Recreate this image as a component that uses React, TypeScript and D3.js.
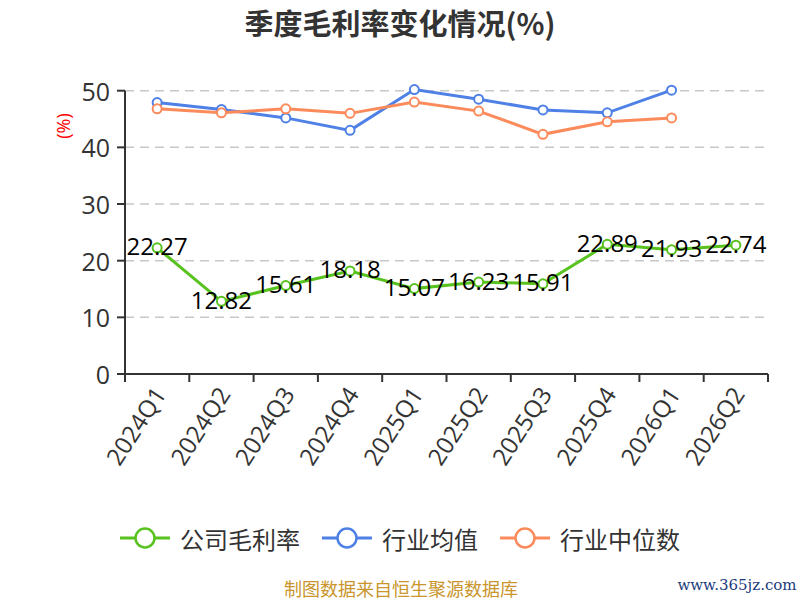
import React from 'react'
import * as d3 from 'd3'

const quarters = ['2024Q1', '2024Q2', '2024Q3', '2024Q4', '2025Q1', '2025Q2', '2025Q3', '2025Q4', '2026Q1', '2026Q2']
const companyMargin = [22.27, 12.82, 15.61, 18.18, 15.07, 16.23, 15.91, 22.89, 21.93, 22.74]
const industryMean: (number | null)[] = [47.9, 46.7, 45.2, 43.0, 50.2, 48.5, 46.6, 46.1, 50.1, null]
const industryMedian: (number | null)[] = [46.8, 46.1, 46.8, 46.0, 48.0, 46.4, 42.3, 44.5, 45.2, null]
const yTicks = [0, 10, 20, 30, 40, 50]

const seriesNames = ['公司毛利率', '行业均值', '行业中位数']
const seriesColors = ['#58c21e', '#4e80e6', '#fc8b5c']

const width = 800
const height = 600
const margin = { top: 90.7, right: 32, bottom: 226, left: 125 }
const font = '"Open Sans", "Noto Sans CJK SC", sans-serif'
const cjkFont = '"Noto Sans CJK SC", sans-serif'

export default function App() {
    const x = d3.scaleBand<string>().domain(quarters).range([margin.left, width - margin.right])
    const y = d3.scaleLinear().domain([0, 50]).range([height - margin.bottom, margin.top])
    const cx = (q: string) => x(q)! + x.bandwidth() / 2

    const line = d3
        .line<number | null>()
        .defined((d) => d != null)
        .x((_, i) => cx(quarters[i]))
        .y((d) => y(d as number))

    const allSeries = [companyMargin, industryMean, industryMedian]
    const x0 = margin.left
    const x1 = width - margin.right
    const yBase = y(0)

    // legend: icon 50 wide, 10 gap, text 24px per char, 22 between items
    const itemW = seriesNames.map((n) => 60 + n.length * 24)
    const legendTotal = d3.sum(itemW) + 22 * (itemW.length - 1)
    let lx = width / 2 - legendTotal / 2
    const legendX = itemW.map((w) => {
        const p = lx
        lx += w + 22
        return p
    })

    return (
        <svg
            width={width}
            height={height}
            style={{ position: 'absolute', left: 0, top: 0, background: '#fff' }}
            fontFamily={font}
        >
            <text x={400} y={22} textAnchor="middle" dominantBaseline="central" fontSize={29} fontWeight="bold" fill="#333" fontFamily={cjkFont}>
                季度毛利率变化情况(%)
            </text>

            {/* grid */}
            {yTicks.filter((t) => t > 0).map((t) => (
                <line key={t} x1={x0} x2={x1} y1={y(t)} y2={y(t)} stroke="#c8c8c8" strokeWidth={1.5} strokeDasharray="9,6" />
            ))}

            {/* y axis */}
            <line x1={x0} x2={x0} y1={y(50)} y2={yBase} stroke="#333" strokeWidth={2} />
            {yTicks.map((t) => (
                <g key={t}>
                    <line x1={x0 - 8} x2={x0} y1={y(t)} y2={y(t)} stroke="#333" strokeWidth={2} />
                    <text x={x0 - 15} y={y(t)} textAnchor="end" dominantBaseline="central" fontSize={25} fill="#333">
                        {t}
                    </text>
                </g>
            ))}
            <text
                transform={`translate(63, 126) rotate(-90)`}
                textAnchor="middle"
                dominantBaseline="central"
                fontSize={18}
                fill="#f00"
            >
                (%)
            </text>

            {/* x axis */}
            <line x1={x0} x2={x1} y1={yBase} y2={yBase} stroke="#333" strokeWidth={2} />
            {quarters.map((q) => (
                <line key={q} x1={x(q)} x2={x(q)} y1={yBase} y2={yBase + 8} stroke="#333" strokeWidth={2} />
            ))}
            <line x1={x1} x2={x1} y1={yBase} y2={yBase + 8} stroke="#333" strokeWidth={2} />
            {quarters.map((q) => (
                <text
                    key={q}
                    transform={`translate(${cx(q) + 2}, ${yBase + 15}) rotate(-57)`}
                    textAnchor="end"
                    dominantBaseline="central"
                    fontSize={24}
                    fill="#333"
                >
                    {q}
                </text>
            ))}

            {/* lines */}
            {allSeries.map((s, si) => (
                <g key={si}>
                    <path d={line(s) ?? ''} fill="none" stroke={seriesColors[si]} strokeWidth={3} />
                    {s.map((v, i) =>
                        v == null ? null : (
                            <circle key={i} cx={cx(quarters[i])} cy={y(v)} r={4.5} fill="#fff" stroke={seriesColors[si]} strokeWidth={2} />
                        )
                    )}
                </g>
            ))}

            {/* data labels */}
            {companyMargin.map((v, i) => (
                <text
                    key={i}
                    x={cx(quarters[i])}
                    y={y(v) - 2}
                    textAnchor="middle"
                    dominantBaseline="central"
                    fontSize={24}
                    fill="#000"
                >
                    {v.toFixed(2)}
                </text>
            ))}

            {/* legend */}
            {seriesNames.map((n, i) => (
                <g key={n} transform={`translate(${legendX[i]}, 538)`}>
                    <line x1={0} x2={50} y1={0} y2={0} stroke={seriesColors[i]} strokeWidth={3} />
                    <circle cx={25} cy={0} r={9.5} fill="#fff" stroke={seriesColors[i]} strokeWidth={2.5} />
                    <text x={60} y={0} dominantBaseline="central" fontSize={24} fill="#333" fontFamily={cjkFont}>
                        {n}
                    </text>
                </g>
            ))}

            {/* footer */}
            <text x={401} y={588} textAnchor="middle" dominantBaseline="central" fontSize={18} fill="#c9952c" fontFamily={cjkFont}>
                制图数据来自恒生聚源数据库
            </text>
            <text x={737} y={585} textAnchor="middle" dominantBaseline="central" fontSize={15} fill="#1b3c7c" fontFamily='"DejaVu Serif", serif'>
                www.365jz.com
            </text>
        </svg>
    )
}
